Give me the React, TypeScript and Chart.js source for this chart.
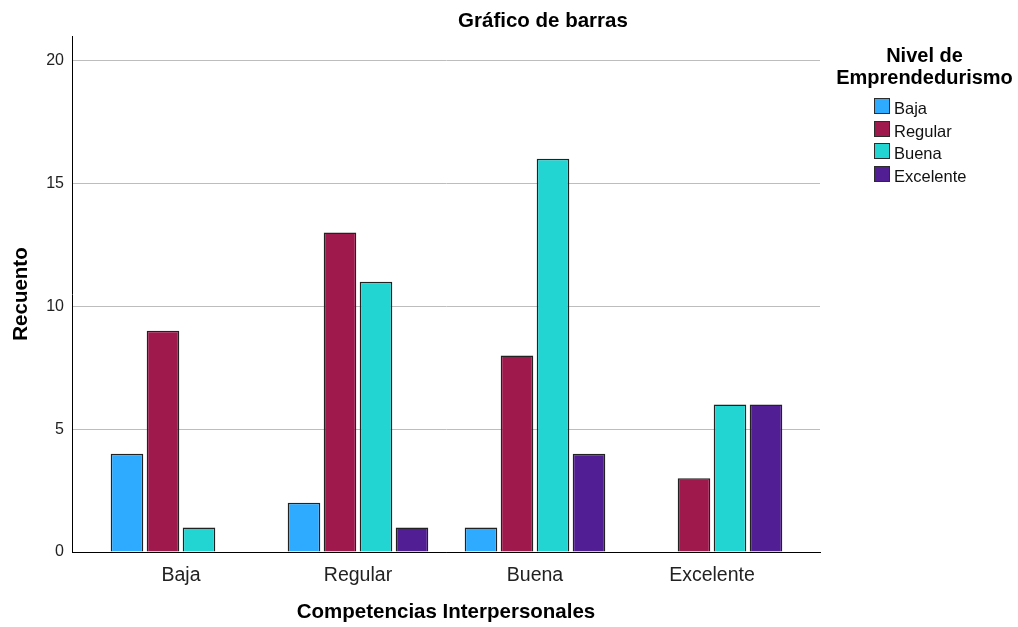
import React, { useEffect, useRef } from "react";
import { Chart, registerables } from "chart.js";

Chart.register(...registerables);

// ---- data ----
const categories = ["Baja", "Regular", "Buena", "Excelente"];
const seriesLabels = ["Baja", "Regular", "Buena", "Excelente"];
const bajaValues: (number | null)[] = [4, 2, 1, null];
const regularValues: (number | null)[] = [9, 13, 8, 3];
const buenaValues: (number | null)[] = [1, 11, 16, 6];
const excelenteValues: (number | null)[] = [null, 1, 4, 6];
const yTickValues = [0, 5, 10, 15, 20];
const seriesColors = ["#2EABFE", "#A0194D", "#22D5D2", "#511E93"];

const chartTitle = "Gráfico de barras";
const xTitle = "Competencias Interpersonales";
const yTitle = "Recuento";
const legendTitle = ["Nivel de", "Emprendedurismo"];

const FONT = '"Liberation Sans", Arial, Helvetica, sans-serif';

export default function App() {
  const canvasRef = useRef<HTMLCanvasElement | null>(null);

  useEffect(() => {
    const canvas = canvasRef.current;
    if (!canvas) return;
    const allSeries = [bajaValues, regularValues, buenaValues, excelenteValues];
    const chart = new Chart(canvas, {
      type: "bar",
      data: {
        datasets: allSeries.map((vals, i) => ({
          label: seriesLabels[i],
          data: vals.map((v, j) => ({ x: j + 1, y: v })),
          backgroundColor: seriesColors[i],
          borderColor: "#222",
          borderWidth: 1.5,
          categoryPercentage: 0.8136,
          barPercentage: 0.905,
        })),
      } as any,
      options: {
        animation: false,
        responsive: false,
        maintainAspectRatio: false,
        layout: { padding: { top: 36, right: 198, left: 0, bottom: 0 } },
        plugins: {
          legend: { display: false },
          tooltip: { enabled: false },
          title: { display: false },
        },
        scales: {
          x: {
            type: "linear",
            offset: false,
            min: 0.3842,
            max: 4.6102,
            grid: { display: false, offset: false },
            border: { display: true, color: "#000", width: 1 },
            afterBuildTicks: (s: any) => {
              s.ticks = categories.map((_, i) => ({ value: i + 1 }));
            },
            afterFit: (s: any) => {
              s.height = 75;
            },
            ticks: {
              autoSkip: false,
              maxRotation: 0,
              padding: 4,
              color: "#222",
              font: { family: FONT, size: 19.5 },
              callback: (v: any) => categories[Math.round(v) - 1] ?? "",
            },
            title: {
              display: true,
              text: xTitle,
              color: "#000",
              font: { family: FONT, size: 20.5, weight: "bold" },
              padding: { top: 0, bottom: 2 },
            },
          },
          y: {
            min: 0,
            max: 21,
            afterBuildTicks: (s: any) => {
              s.ticks = yTickValues.map((v) => ({ value: v }));
            },
            afterFit: (s: any) => {
              s.width = 72;
            },
            grid: {
              drawTicks: false,
              color: (ctx: any) => (ctx.tick && ctx.tick.value === 0 ? "#000" : "#bdbdbd"),
              lineWidth: 1,
            },
            border: { display: true, color: "#000", width: 1 },
            ticks: {
              padding: 8,
              color: "#222",
              font: { family: FONT, size: 16 },
            },
            title: {
              display: true,
              text: yTitle,
              color: "#000",
              font: { family: FONT, size: 20.5, weight: "bold" },
              padding: { top: 9, bottom: 0 },
            },
          },
        },
      } as any,
    });
    return () => chart.destroy();
  }, []);

  const rowTops = [98, 120.5, 143, 165.5];

  return (
    <div
      style={{
        position: "fixed",
        left: 0,
        top: 0,
        width: 1018,
        height: 627,
        background: "#fff",
        fontFamily: FONT,
        overflow: "hidden",
      }}
    >
      <canvas ref={canvasRef} width={1018} height={627} style={{ display: "block", position: "absolute", left: 0, top: 0 }} />
      <div
        style={{
          position: "absolute",
          left: 393,
          top: 8,
          width: 300,
          textAlign: "center",
          fontSize: 20.5,
          lineHeight: "24px",
          fontWeight: "bold",
          color: "#000",
          whiteSpace: "nowrap",
        }}
      >
        {chartTitle}
      </div>
      <div
        style={{
          position: "absolute",
          left: 829.5,
          top: 44,
          width: 190,
          textAlign: "center",
          fontSize: 20,
          lineHeight: "22px",
          fontWeight: "bold",
          color: "#000",
          whiteSpace: "nowrap",
        }}
      >
        {legendTitle.map((t, i) => (
          <div key={i}>{t}</div>
        ))}
      </div>
      {seriesLabels.map((label, i) => (
        <React.Fragment key={label}>
          <div
            style={{
              position: "absolute",
              left: 874,
              top: rowTops[i],
              width: 16,
              height: 16,
              boxSizing: "border-box",
              background: seriesColors[i],
              border: "1px solid #2c2c2c",
            }}
          />
          <div
            style={{
              position: "absolute",
              left: 894,
              top: rowTops[i] + 2,
              fontSize: 16.5,
              lineHeight: "16px",
              color: "#111",
              whiteSpace: "nowrap",
            }}
          >
            {label}
          </div>
        </React.Fragment>
      ))}
    </div>
  );
}
